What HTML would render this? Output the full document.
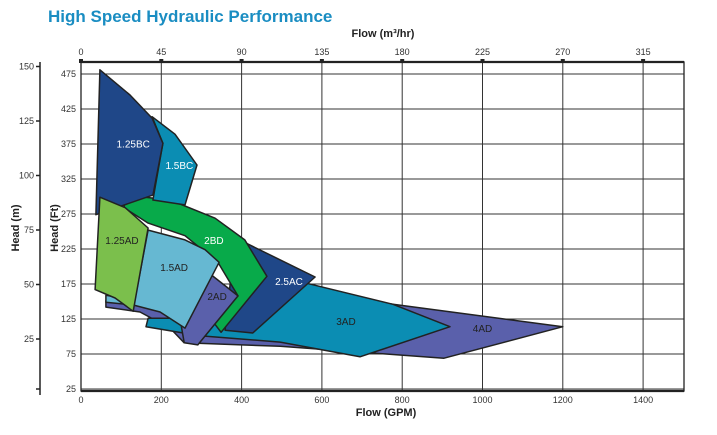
<!DOCTYPE html>
<html><head><meta charset="utf-8"><style>
body{margin:0;background:#fff;width:717px;height:430px;overflow:hidden;font-family:"Liberation Sans",sans-serif}
</style></head><body>
<svg id="c" width="717" height="430" xmlns="http://www.w3.org/2000/svg" font-family="Liberation Sans, sans-serif"></svg>
<script>
const gpmTicks=[0,200,400,600,800,1000,1200,1400];
const m3Ticks=[0,45,90,135,180,225,270,315];
const ftTicks=[25,75,125,175,225,275,325,375,425,475];
const mTicks=[150,125,100,75,50,25];
const curveNames=["4AD","3AD","2.5AC","2BD","2AD","1.5BC","1.25BC","1.5AD","1.25AD"];
const curveColors=["#5a60ab","#0b8db3","#1f4788","#08aa4a","#5a60ab","#0b8db3","#1f4788","#66b8d2","#7bbf4c"];
const labelColors=["#222","#222","#fff","#fff","#222","#fff","#fff","#222","#222"];
const curveGpm=[
 [62,62,147,222,257,496,904,1200,777,545],
 [162,167,446,563,777,919,695,496,296],
 [384,583,428,359],
 [112,222,334,408,463,349,329,391,341,259,167,107],
 [309,391,291,257,247],
 [177,234,289,259,179,204],
 [47,122,177,204,179,37],
 [167,259,309,344,259,197,130,62,62,134],
 [47,110,167,130,85,35]];
const curveFt=[
 [151,142,135,112,91,86,69,114,146,166],
 [114,126,126,176,146,114,71,92,101],
 [241,185,105,109],
 [302,295,269,238,186,106,121,158,206,244,262,284],
 [195,158,88,91,124],
 [414,389,345,288,295,376],
 [481,445,412,376,302,274],
 [252,238,224,206,112,135,145,149,159,152],
 [299,284,255,136,155,167]];
const labelGpm=[1000,660,518,331,339,245,130,232,102];
const labelFt=[112,122,179,238,158,345,376,199,238];

const svg=document.getElementById('c');
const NS="http://www.w3.org/2000/svg";
const X0=81,X1=684,Y0=62,Y1=391;
const xs=g=>81+g*0.4015;
const ys=f=>389-(f-25)*0.7;
const ym=m=>339-(m-25)*2.18;
function el(tag,attrs,txt){const e=document.createElementNS(NS,tag);for(const k in attrs)e.setAttribute(k,attrs[k]);if(txt!==undefined)e.textContent=txt;svg.appendChild(e);return e;}

let t=el('text',{x:48,y:22,'font-size':17,'font-weight':'bold',fill:'#1a8dc2'},'High Speed Hydraulic Performance');



// series polygons
for(let i=0;i<curveNames.length;i++){
 const pts=curveGpm[i].map((g,j)=>xs(g).toFixed(1)+','+ys(curveFt[i][j]).toFixed(1)).join(' ');
 const p=el('polygon',{points:pts,fill:curveColors[i],stroke:'#222','stroke-width':1.5,'stroke-linejoin':'round'});
 
 
}
// grid (drawn under? draw before polygons would be better) -> insert before polygons
const firstPoly=svg.querySelector('polygon');
function gl(attrs,name){const e=document.createElementNS(NS,'line');for(const k in attrs)e.setAttribute(k,attrs[k]);svg.insertBefore(e,firstPoly);return e;}
gpmTicks.forEach(g=>{gl({x1:xs(g),x2:xs(g),y1:Y0,y2:Y1,stroke:'#333','stroke-width':1},'grid-x-'+g);});
ftTicks.forEach(f=>{gl({x1:X0,x2:X1,y1:ys(f),y2:ys(f),stroke:'#333','stroke-width':1},'grid-y-'+f);});
// labels on curves
for(let i=0;i<curveNames.length;i++){
 const l=el('text',{x:xs(labelGpm[i]),y:ys(labelFt[i])+4,'font-size':10,'text-anchor':'middle',fill:labelColors[i]},curveNames[i]);
 
 
}
// frame
let f=el('rect',{x:X0,y:Y0,width:X1-X0,height:Y1-Y0,fill:'none',stroke:'#222','stroke-width':1.3});

let b=el('line',{x1:X0,x2:X1,y1:Y1,y2:Y1,stroke:'#222','stroke-width':2.2});

let tp=el('line',{x1:X0,x2:X1,y1:Y0,y2:Y0,stroke:'#222','stroke-width':2.2});

gpmTicks.forEach(g=>{
 const a=el('text',{x:xs(g),y:403,'font-size':9,'text-anchor':'middle',fill:'#333'},g);
 
});
m3Ticks.forEach((m,i)=>{
 const sq=el('rect',{x:xs(gpmTicks[i])-2,y:Y0-3,width:4,height:4,fill:'#222'});
 
 const a=el('text',{x:xs(gpmTicks[i]),y:55,'font-size':9,'text-anchor':'middle',fill:'#333'},m);
 
});
ftTicks.forEach(v=>{
 const a=el('text',{x:76,y:ys(v)+3,'font-size':9,'text-anchor':'end',fill:'#333'},v);
 
});
let ma=el('line',{x1:40,x2:40,y1:62,y2:395,stroke:'#222','stroke-width':1.5});

mTicks.forEach(v=>{
 const k=el('line',{x1:36,x2:40,y1:ym(v),y2:ym(v),stroke:'#222','stroke-width':1.5});
 
 const a=el('text',{x:34,y:ym(v)+3,'font-size':9,'text-anchor':'end',fill:'#333'},v);
 
});
let k0=el('line',{x1:36,x2:40,y1:389,y2:389,stroke:'#222','stroke-width':1.5});

let t1=el('text',{x:383,y:37,'font-size':11,'font-weight':'bold','text-anchor':'middle',fill:'#222'},'Flow (m³/hr)');

let t2=el('text',{x:386,y:416,'font-size':11,'font-weight':'bold','text-anchor':'middle',fill:'#222'},'Flow (GPM)');

let t3=el('text',{x:0,y:0,'font-size':11,'font-weight':'bold','text-anchor':'middle',fill:'#222',transform:'translate(19,228) rotate(-90)'},'Head (m)');

let t4=el('text',{x:0,y:0,'font-size':11,'font-weight':'bold','text-anchor':'middle',fill:'#222',transform:'translate(58,228) rotate(-90)'},'Head (Ft)');

</script>
</body></html>
